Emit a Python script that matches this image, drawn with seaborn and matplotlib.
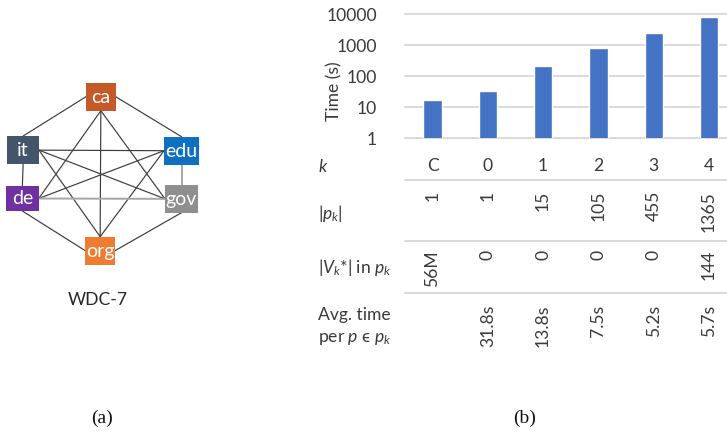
import matplotlib
matplotlib.use("Agg")
import matplotlib.pyplot as plt
from matplotlib.patches import Rectangle
from matplotlib.lines import Line2D
from matplotlib.ticker import FixedLocator, FixedFormatter, NullLocator
import matplotlib.transforms as mtransforms
import seaborn as sns
import pandas as pd

# ---------------- data ----------------
categories = ["C", "0", "1", "2", "3", "4"]
time_s = [17, 31.8, 207, 787.5, 2366, 7780]
pk_size = ["1", "1", "15", "105", "455", "1365"]
vk_in_pk = ["56M", "0", "0", "0", "0", "144"]
avg_time = ["", "31.8s", "13.8s", "7.5s", "5.2s", "5.7s"]
ytick_values = [1, 10, 100, 1000, 10000]
ytick_labels = ["1", "10", "100", "1000", "10000"]

nodes = ["ca", "it", "edu", "de", "gov", "org"]
node_colors = {"ca": "#c55a28", "it": "#44546a", "edu": "#0f6fc0",
               "de": "#7030a0", "gov": "#8f8f8f", "org": "#ef7d31"}
edges = [("ca", "it"), ("ca", "edu"), ("ca", "org"), ("ca", "de"), ("ca", "gov"),
         ("it", "de"), ("it", "edu"), ("it", "gov"), ("it", "org"),
         ("edu", "gov"), ("edu", "de"), ("edu", "org"),
         ("de", "gov"), ("de", "org"), ("gov", "org")]
graph_name = "WDC-7"

# ---------------- layout (pixel coordinates, origin top-left) ----------------
W, H = 727, 434
node_boxes = {"ca": (86, 82.7, 115.7, 110.7), "it": (7.3, 136, 39, 164.3),
              "edu": (164, 136.7, 199, 164.7), "de": (6, 186, 38.7, 211),
              "gov": (165, 185, 198, 212.7), "org": (85.3, 236.7, 115, 264.7)}
edge_anchors = {("ca", "it"): "lt", ("ca", "edu"): "rt", ("ca", "org"): "bt",
                ("ca", "de"): "br", ("ca", "gov"): "bl", ("it", "de"): "bt",
                ("it", "edu"): "rl", ("it", "gov"): "rl", ("it", "org"): "rt",
                ("edu", "gov"): "bt", ("edu", "de"): "lr", ("edu", "org"): "lt",
                ("de", "gov"): "rl", ("de", "org"): "bl", ("gov", "org"): "br"}
light_edges = {("edu", "gov"), ("de", "gov")}

TEXT = "#3a3a3a"
GRID = "#d9d9d9"

sns.set_style("white")
plt.rcParams["font.family"] = ["Lato", "DejaVu Sans"]
plt.rcParams["mathtext.fontset"] = "custom"
plt.rcParams["mathtext.rm"] = "Lato"
plt.rcParams["mathtext.it"] = "Lato:italic"
plt.rcParams["mathtext.bf"] = "Lato:bold"

fig = plt.figure(figsize=(W / 100, H / 100), dpi=100)
fig.patch.set_facecolor("white")

# ---------------- (a) graph panel ----------------
gax = fig.add_axes([0, 0, 1, 1], zorder=0)
gax.set_xlim(0, W)
gax.set_ylim(H, 0)
gax.axis("off")


def anchor(name, side):
    x0, y0, x1, y1 = node_boxes[name]
    return {"l": (x0, (y0 + y1) / 2), "r": (x1, (y0 + y1) / 2),
            "t": ((x0 + x1) / 2, y0), "b": ((x0 + x1) / 2, y1)}[side]


for a, b in edges:
    sa, sb = edge_anchors[(a, b)]
    p, q = anchor(a, sa), anchor(b, sb)
    light = (a, b) in light_edges
    gax.add_line(Line2D([p[0], q[0]], [p[1], q[1]],
                        color="#a6a6a6" if light else "#3c3c3c",
                        lw=1.4 if light else 0.85, zorder=1))

for n in nodes:
    x0, y0, x1, y1 = node_boxes[n]
    gax.add_patch(Rectangle((x0, y0), x1 - x0, y1 - y0, facecolor=node_colors[n],
                            edgecolor="none", zorder=2))
    gax.text((x0 + x1) / 2, (y0 + y1) / 2 + 0.5, n, color="white", fontsize=14,
             ha="center", va="center", zorder=3)

gax.text(98, 300, graph_name, color="#262626", fontsize=12.6, ha="center", va="center")

gax.text(101.5, 418, "(a)", fontsize=14, family="Liberation Serif",
         ha="center", va="center", color="#111111")
gax.text(525, 418, "(b)", fontsize=14, family="Liberation Serif",
         ha="center", va="center", color="#111111")

# ---------------- (b) bar chart ----------------
bar_left, bar_right = 404.85, 736.7
bar_top, bar_bottom = 14, 138
ax = fig.add_axes([bar_left / W, 1 - bar_bottom / H, (bar_right - bar_left) / W,
                   (bar_bottom - bar_top) / H], zorder=1)
ax.patch.set_alpha(0)

df = pd.DataFrame({"k": categories, "time": time_s})
sns.barplot(data=df, x="k", y="time", order=categories, color="#4472c4",
            saturation=1, width=0.33, ax=ax, log_scale=(False, True), zorder=3)
ax.set_yscale("log")
ax.set_ylim(1, 10000)
ax.set_xlim(-0.5, len(categories) - 0.5)
ax.yaxis.set_major_locator(FixedLocator(ytick_values))
ax.yaxis.set_major_formatter(FixedFormatter(ytick_labels))
ax.yaxis.set_minor_locator(NullLocator())
ax.set_xticks([])
ax.set_xlabel("")
ax.set_ylabel("")
ax.tick_params(axis="y", length=0, pad=20, labelsize=12.6, labelcolor=TEXT)
for s in ax.spines.values():
    s.set_visible(False)
for v in ytick_values:
    ax.axhline(v, color=GRID, lw=1.4, zorder=1, clip_on=False)
for lab in ax.get_yticklabels():
    lab.set_family(["Lato", "DejaVu Sans"])

fig.text(334 / W, 1 - 91 / H, "Time (s)", rotation=90, ha="center", va="center",
         fontsize=12.6, color=TEXT)

# ---------------- table beneath the bars ----------------
col_tr = mtransforms.blended_transform_factory(ax.transData, fig.transFigure)
line_tr = mtransforms.blended_transform_factory(ax.transAxes, fig.transFigure)


def fy(py):
    return 1 - py / H


label_x = 318 / W
fs = 12.6
fig.text(label_x, fy(167), "$k$", ha="left", va="center", fontsize=fs, color=TEXT)
fig.text(label_x, fy(214), r"$|p_k|$", ha="left", va="center", fontsize=fs, color=TEXT)
fig.text(label_x, fy(267), r"$|V_k$*$|$ in $p_k$", ha="left", va="center",
         fontsize=fs, color=TEXT)
fig.text(label_x, fy(320), "Avg. time", ha="left", va="baseline", fontsize=fs, color=TEXT)
fig.text(label_x, fy(342), "per $p$ \u03f5 $p_k$", ha="left", va="baseline",
         fontsize=fs, color=TEXT)

for py in (180, 241, 293):
    fig.add_artist(Line2D([0, 1], [fy(py), fy(py)], transform=line_tr,
                          color=GRID, lw=1.4))

for i, c in enumerate(categories):
    fig.text(i, fy(166), c, transform=col_tr, ha="center", va="center",
             fontsize=fs, color=TEXT)
    fig.text(i, fy(191), pk_size[i], transform=col_tr, ha="center", va="top",
             rotation=90, fontsize=fs, color=TEXT)
    fig.text(i, fy(250), vk_in_pk[i], transform=col_tr, ha="center", va="top",
             rotation=90, fontsize=fs, color=TEXT)
    if avg_time[i]:
        fig.text(i, fy(305), avg_time[i], transform=col_tr, ha="center", va="top",
                 rotation=90, fontsize=fs, color=TEXT)

fig.savefig("out.png", dpi=100, facecolor="white")
